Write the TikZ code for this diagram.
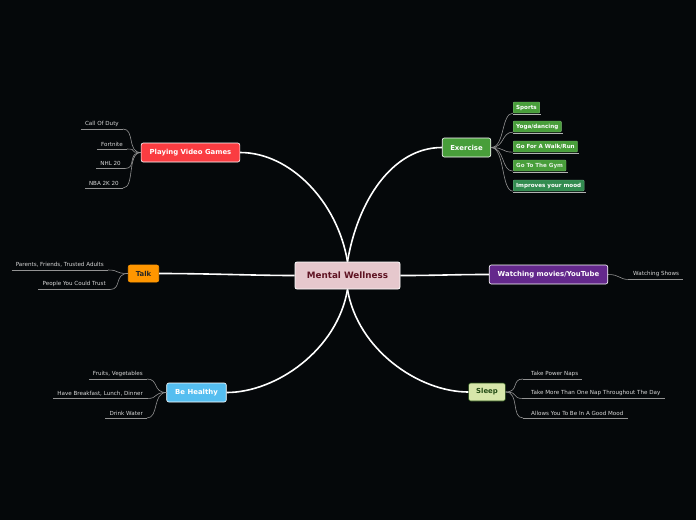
\documentclass[tikz,border=0pt]{standalone}
\usepackage{fontspec}
\setmainfont{DejaVu Sans}
\usepackage{xcolor}
\definecolor{bgdark}{RGB}{5,8,10}
\definecolor{wellpink}{RGB}{230,200,205}
\definecolor{welltext}{RGB}{95,20,35}
\definecolor{gamered}{RGB}{250,60,65}
\definecolor{exgreen}{RGB}{72,158,58}
\definecolor{exteal}{RGB}{50,140,80}
\definecolor{talkorange}{RGB}{255,150,0}
\definecolor{moviepurple}{RGB}{100,40,140}
\definecolor{healthblue}{RGB}{85,190,240}
\definecolor{sleepgreen}{RGB}{215,230,170}
\definecolor{sleeptext}{RGB}{35,75,20}
\definecolor{leafgray}{RGB}{215,215,215}

\tikzset{
  central/.style={draw=white, fill=wellpink, text=welltext, rounded corners=2pt,
    line width=0.8pt, font=\fontsize{8.8}{10}\selectfont\bfseries,
    minimum width=105pt, minimum height=27pt},
  topic/.style={draw=white, rounded corners=2pt, line width=0.6pt, text=white,
    font=\fontsize{6.9}{8}\selectfont\bfseries, minimum height=19pt, inner xsep=8.5pt},
  leaf/.style={font=\fontsize{5.6}{6.5}\selectfont, text=leafgray, inner xsep=4pt, inner ysep=2.5pt},
  exleaf/.style={fill=exgreen, draw=exgreen!70!white, line width=0.3pt, rounded corners=1pt,
    font=\fontsize{5.6}{6.5}\selectfont\bfseries, text=white, minimum height=11pt,
    inner xsep=3pt, inner ysep=0pt, anchor=west},
  branch/.style={draw=white, line width=1.6pt},
  twig/.style={draw=gray!85, line width=0.6pt},
}

\begin{document}
\begin{tikzpicture}[x=1pt, y=-1pt]
% background, fixes the page size
\fill[bgdark] (0,0) rectangle (696,520);
\useasboundingbox (0,0) rectangle (696,520);

% topics
\node[central] (mw) at (347.5,275.5) {Mental Wellness};
\node[topic, fill=gamered] (pvg) at (190.5,152.5) {Playing Video Games};
\node[topic, fill=exgreen, draw=white!80, inner xsep=8pt] (ex) at (466.5,147.5) {Exercise};
\node[topic, fill=talkorange, draw=talkorange, text=black!85, minimum height=17pt, inner xsep=7.5pt] (talk) at (143.5,273.5) {Talk};
\node[topic, fill=moviepurple] (wm) at (548.5,274.5) {Watching movies/YouTube};
\node[topic, fill=healthblue] (bh) at (196.5,392.5) {Be Healthy};
\node[topic, fill=sleepgreen, draw=sleeptext, text=sleeptext, minimum height=18pt, inner xsep=7.5pt] (sl) at (487,392) {Sleep};

% branches from the centre
\draw[branch] (pvg.east) .. controls +(50,0) and +(-10,-60) .. (mw.north);
\draw[branch] (ex.west) .. controls +(-50,0) and +(10,-60) .. (mw.north);
\draw[branch] (talk.east) .. controls +(50,0) and +(-40,0) .. (mw.west);
\draw[branch] (wm.west) .. controls +(-40,0) and +(40,0) .. (mw.east);
\draw[branch] (bh.east) .. controls +(50,0) and +(-10,60) .. (mw.south);
\draw[branch] (sl.west) .. controls +(-50,0) and +(10,60) .. (mw.south);

% Playing Video Games
\node[leaf, anchor=south east] (cod) at (123,129) {Call Of Duty};
\node[leaf, anchor=south east] (fort) at (127,149) {Fortnite};
\node[leaf, anchor=south east] (nhl) at (125,168.5) {NHL 20};
\node[leaf, anchor=south east] (nba) at (123,188) {NBA 2K 20};

% Talk
\node[leaf, anchor=south east] (pfa) at (108,270) {Parents, Friends, Trusted Adults};
\node[leaf, anchor=south east] (pct) at (110,289.5) {People You Could Trust};

% Watching movies/YouTube
\node[leaf, anchor=south west] (ws) at (629,279.5) {Watching Shows};

% Be Healthy
\node[leaf, anchor=south east] (fv) at (147,379) {Fruits, Vegetables};
\node[leaf, anchor=south east] (hbl) at (147,398.5) {Have Breakfast, Lunch, Dinner};
\node[leaf, anchor=south east] (dw) at (147,418) {Drink Water};

% Sleep
\node[leaf, anchor=south west, xshift=8pt] (tpn) at (519,379) {Take Power Naps};
\node[leaf, anchor=south west, xshift=8pt] (tmn) at (519,398.5) {Take More Than One Nap Throughout The Day};
\node[leaf, anchor=south west, xshift=8pt] (gm) at (519,418) {Allows You To Be In A Good Mood};

% Exercise
\node[exleaf] (sp) at (513,107.5) {Sports};
\node[exleaf] (yd) at (513,126.5) {Yoga/dancing};
\node[exleaf] (gw) at (513,146.5) {Go For A Walk/Run};
\node[exleaf, text=white!85!exgreen] (gym) at (513,165.5) {Go To The Gym};
\node[exleaf, fill=exteal, draw=exteal!70!white] (im) at (513,185.5) {Improves your mood};

% underlines
\foreach \n in {cod,fort,nhl,nba,pfa,pct,ws,fv,hbl,dw}
  \draw[twig] (\n.south west) -- (\n.south east);
\foreach \n in {tpn,tmn,gm}
  \draw[twig] ([xshift=-4pt]\n.south west) -- (\n.south east);
\foreach \n in {sp,yd,gw,gym,im}
  \draw[twig, draw=gray!60] ([yshift=-0.8pt]\n.south west) -- ([xshift=1.5pt,yshift=-0.8pt]\n.south east);

% connectors to the leaves
\foreach \n in {cod,fort,nhl,nba}
  \draw[twig] (pvg.west) .. controls +(-14,0) and +(12,0) .. (\n.south east);
\foreach \n in {pfa,pct}
  \draw[twig] (talk.west) .. controls +(-14,0) and +(12,0) .. (\n.south east);
\foreach \n in {fv,hbl,dw}
  \draw[twig] (bh.west) .. controls +(-14,0) and +(12,0) .. (\n.south east);
\foreach \n in {tpn,tmn,gm}
  \draw[twig] (sl.east) .. controls +(14,0) and +(-12,0) .. ([xshift=-4pt]\n.south west);
\foreach \n in {sp,yd,gw,gym,im}
  \draw[twig] (ex.east) .. controls +(14,0) and +(-12,0) .. (\n.south west);
\draw[twig] (wm.east) .. controls +(12,0) and +(-10,0) .. (ws.south west);
\end{tikzpicture}
\end{document}
